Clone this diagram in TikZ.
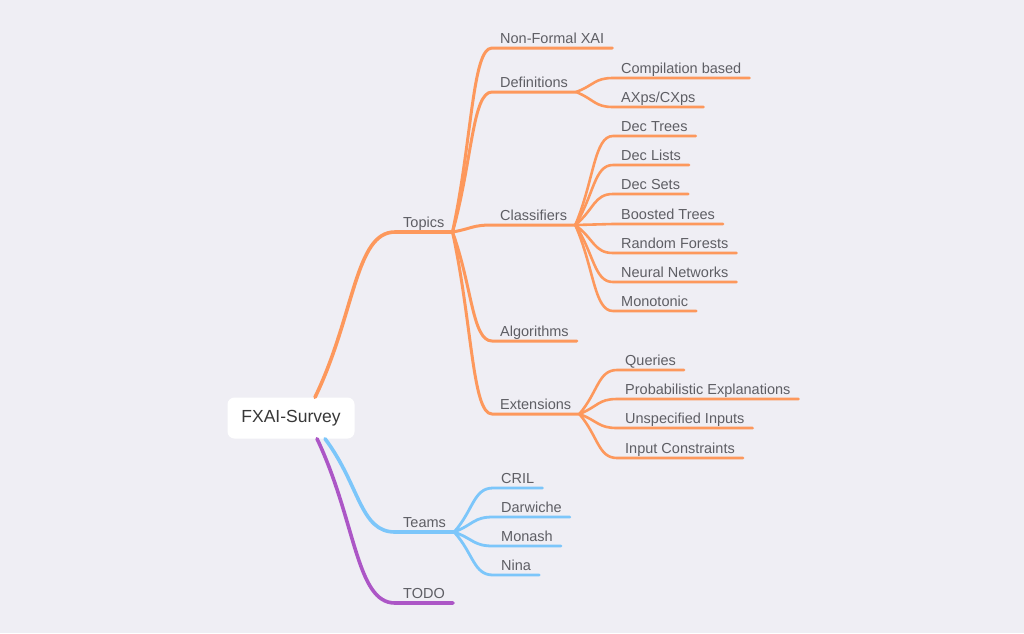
\documentclass[tikz,border=0pt]{standalone}
\usepackage{fontspec}
\setmainfont{Liberation Sans}
\usetikzlibrary{calc}
\definecolor{bgcol}{RGB}{239,238,244}
\definecolor{topicO}{RGB}{253,152,92}
\definecolor{teamB}{RGB}{124,198,250}
\definecolor{todoP}{RGB}{172,86,198}
\definecolor{labelG}{RGB}{94,94,100}

\begin{document}
\begin{tikzpicture}[x=1pt,y=-1pt]
  \tikzstyle{rootV}   = [fill=white,rounded corners=7pt,minimum width=127pt,minimum height=41pt,text=black!78,font=\fontsize{17.5}{20}\selectfont]
  \tikzstyle{item}    = [anchor=south west,inner xsep=8pt,inner ysep=2pt,text depth=2.5pt,text=labelG,font=\fontsize{14.5}{17}\selectfont]
  \tikzstyle{branch}  = [line cap=round,line join=round,to path={.. controls ($(\tikztostart)!0.5!(\tikztotarget)$) and ($(\tikztotarget)!0.5!(\tikztostart |- \tikztotarget)$) .. (\tikztotarget) \tikztonodes}]
  \tikzstyle{topicE}  = [draw=topicO,line width=3.6pt,branch]
  \tikzstyle{topicS}  = [draw=topicO,line width=3pt,branch]
  \tikzstyle{topicL}  = [draw=topicO,line width=2.6pt,branch]
  \tikzstyle{teamE}   = [draw=teamB,line width=3.6pt,branch]
  \tikzstyle{teamL}   = [draw=teamB,line width=2.8pt,branch]
  \tikzstyle{todoE}   = [draw=todoP,line width=3.6pt,branch]
  % background
  \fill[bgcol] (0,0) rectangle (1024,633);
  % root
  \path (291,418) node[rootV](root) {FXAI-Survey};
  \coordinate (rA) at ([xshift=24pt]root.north);
  \coordinate (rB) at ([xshift=34pt]root.south);
  \coordinate (rC) at ([xshift=26pt]root.south);
  % first level
  \path (395,232) node[item](topics) {Topics};
  \path (395,532) node[item](teams)  {Teams};
  \path (395,603) node[item](todo)   {TODO};
  % topics
  \path (492, 48) node[item](nonformal) {Non-Formal XAI};
  \path (492, 92) node[item](defs)      {Definitions};
  \path (492,225) node[item](classif)   {Classifiers};
  \path (492,341) node[item](algos)     {Algorithms};
  \path (492,414) node[item](extens)    {Extensions};
  % definitions
  \path (613, 78) node[item](compil) {Compilation based};
  \path (613,107) node[item](axps)   {AXps/CXps};
  % classifiers
  \path (613,136) node[item](dtrees)  {Dec Trees};
  \path (613,165) node[item](dlists)  {Dec Lists};
  \path (613,194) node[item](dsets)   {Dec Sets};
  \path (613,224) node[item](boosted) {Boosted Trees};
  \path (613,253) node[item](rforest) {Random Forests};
  \path (613,282) node[item](neural)  {Neural Networks};
  \path (613,311) node[item](monoton) {Monotonic};
  % extensions
  \path (617,370) node[item](queries) {Queries};
  \path (617,399) node[item](probexp) {Probabilistic Explanations};
  \path (617,428) node[item](unspec)  {Unspecified Inputs};
  \path (617,458) node[item](inconst) {Input Constraints};
  % teams
  \path (493,488) node[item](cril)     {CRIL};
  \path (493,517) node[item](darwiche) {Darwiche};
  \path (493,546) node[item](monash)   {Monash};
  \path (493,575) node[item](nina)     {Nina};
  % connectors
  \draw[topicE] (rA) to (topics.south west) -- (topics.south east);
  \draw[teamE]  (rB) to (teams.south west)  -- (teams.south east);
  \draw[todoE]  (rC) to (todo.south west)   -- (todo.south east);
  \draw[topicS] (topics.south east) to (nonformal.south west) -- (nonformal.south east);
  \draw[topicS] (topics.south east) to (defs.south west)      -- (defs.south east);
  \draw[topicS] (topics.south east) to (classif.south west)   -- (classif.south east);
  \draw[topicS] (topics.south east) to (algos.south west)     -- (algos.south east);
  \draw[topicS] (topics.south east) to (extens.south west)    -- (extens.south east);
  \draw[topicL] (defs.south east) to (compil.south west) -- (compil.south east);
  \draw[topicL] (defs.south east) to (axps.south west)   -- (axps.south east);
  \draw[topicL] (classif.south east) to (dtrees.south west)  -- (dtrees.south east);
  \draw[topicL] (classif.south east) to (dlists.south west)  -- (dlists.south east);
  \draw[topicL] (classif.south east) to (dsets.south west)   -- (dsets.south east);
  \draw[topicL] (classif.south east) to (boosted.south west) -- (boosted.south east);
  \draw[topicL] (classif.south east) to (rforest.south west) -- (rforest.south east);
  \draw[topicL] (classif.south east) to (neural.south west)  -- (neural.south east);
  \draw[topicL] (classif.south east) to (monoton.south west) -- (monoton.south east);
  \draw[topicL] (extens.south east) to (queries.south west) -- (queries.south east);
  \draw[topicL] (extens.south east) to (probexp.south west) -- (probexp.south east);
  \draw[topicL] (extens.south east) to (unspec.south west)  -- (unspec.south east);
  \draw[topicL] (extens.south east) to (inconst.south west) -- (inconst.south east);
  \draw[teamL] (teams.south east) to (cril.south west)     -- (cril.south east);
  \draw[teamL] (teams.south east) to (darwiche.south west) -- (darwiche.south east);
  \draw[teamL] (teams.south east) to (monash.south west)   -- (monash.south east);
  \draw[teamL] (teams.south east) to (nina.south west)     -- (nina.south east);
\end{tikzpicture}
\end{document}
